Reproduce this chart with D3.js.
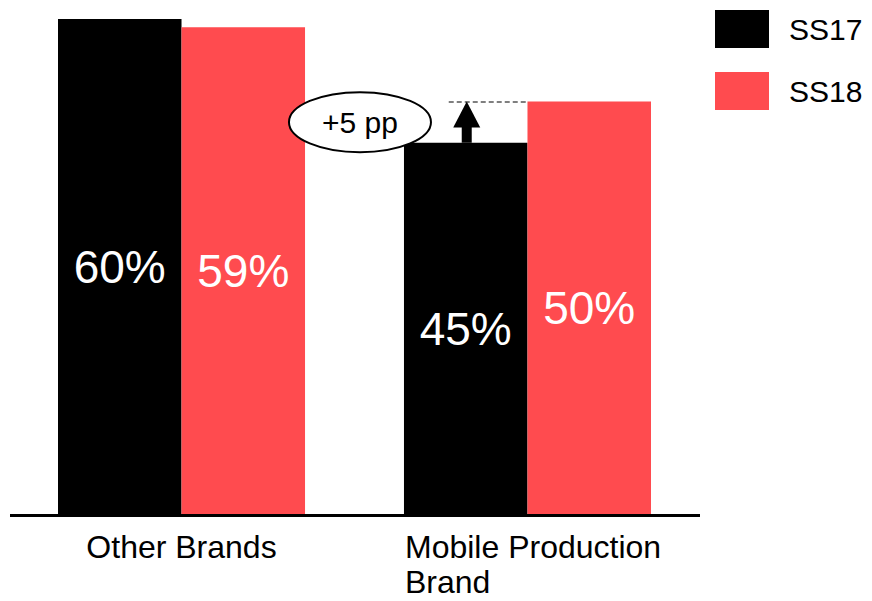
<!DOCTYPE html>
<html>
<head>
<meta charset="utf-8">
<script src="https://cdn.jsdelivr.net/npm/d3@7"></script>
<style>
  body { margin: 0; background: #fff; }
  svg { display: block; font-family: "Liberation Sans", Arial, sans-serif; }
</style>
</head>
<body>
<div id="chart"></div>
<script>
// chart data
var categories = ["Other Brands", "Mobile Production Brand"];
var categoryLines = [["Other Brands"], ["Mobile Production", "Brand"]];
var seasons = ["SS17", "SS18"];
var ss17Values = [60, 45];
var ss18Values = [59, 50];
var valueLabels = [["60%", "59%"], ["45%", "50%"]];
var annotationText = "+5 pp";

var colors = { SS17: "#000000", SS18: "#ff4b4f" };

var svgWidth = 872;
var svgHeight = 601;

var svg = d3.select("#chart")
  .append("svg")
  .attr("width", svgWidth)
  .attr("height", svgHeight);

// build rows from the arrays
var rows = categories.map(function(c, i) {
  return { category: c, lines: categoryLines[i], values: [
    { season: "SS17", value: ss17Values[i], label: valueLabels[i][0] },
    { season: "SS18", value: ss18Values[i], label: valueLabels[i][1] }
  ]};
});

var x0 = d3.scaleBand()
  .domain(categories)
  .range([58, 651])
  .paddingInner(0.286)
  .paddingOuter(0);

var x1 = d3.scaleBand()
  .domain(seasons)
  .range([0, x0.bandwidth()]);

var yScale = d3.scaleLinear()
  .domain([0, 60])
  .range([514, 19]);

// bars
var groups = svg.selectAll(".group")
  .data(rows)
  .enter()
  .append("g")
  .attr("class", "group")
  .attr("transform", d => `translate(${x0(d.category)}, 0)`);

groups.selectAll("rect")
  .data(d => d.values)
  .enter()
  .append("rect")
  .attr("x", d => x1(d.season))
  .attr("y", d => yScale(d.value))
  .attr("width", x1.bandwidth())
  .attr("height", d => yScale(0) - yScale(d.value))
  .attr("fill", d => colors[d.season]);

groups.selectAll(".val")
  .data(d => d.values)
  .enter()
  .append("text")
  .attr("class", "val")
  .attr("x", d => x1(d.season) + x1.bandwidth() / 2)
  .attr("y", d => (yScale(d.value) + yScale(0)) / 2)
  .attr("dy", "0.36em")
  .attr("text-anchor", "middle")
  .attr("fill", "#fff")
  .style("font-size", "46px")
  .text(d => d.label);

// baseline
svg.append("line")
  .attr("x1", 10)
  .attr("x2", 700)
  .attr("y1", yScale(0) + 1.5)
  .attr("y2", yScale(0) + 1.5)
  .attr("stroke", "#000")
  .attr("stroke-width", 3);

// category labels, block centred under the group, lines left aligned
groups.each(function(d) {
  var g = d3.select(this);
  var t = g.append("text")
    .style("font-size", "32px")
    .attr("fill", "#000");
  d.lines.forEach(function(line, i) {
    t.append("tspan")
      .attr("x", 0)
      .attr("y", 558 + i * 35)
      .text(line);
  });
  var w = t.node().getBBox().width;
  var start = Math.max(x0.bandwidth() / 2 - w / 2, 1);
  t.selectAll("tspan").attr("x", start);
});

// annotation on the Mobile Production Brand group
var gx = x0(categories[1]);
var barMid = gx + x1("SS17") + x1.bandwidth() / 2;
var yLow = yScale(ss17Values[1]);
var yHigh = yScale(ss18Values[1]);

svg.append("line")
  .attr("x1", barMid - 17)
  .attr("x2", gx + x1("SS18"))
  .attr("y1", yHigh + 0.5)
  .attr("y2", yHigh + 0.5)
  .attr("stroke", "#000")
  .attr("stroke-width", 1.2)
  .attr("stroke-dasharray", "5,3");

svg.append("line")
  .attr("x1", barMid + 1)
  .attr("x2", barMid + 1)
  .attr("y1", yLow)
  .attr("y2", yHigh + 24)
  .attr("stroke", "#000")
  .attr("stroke-width", 10);

svg.append("path")
  .attr("d", `M${barMid + 1},${yHigh} L${barMid + 14.5},${yHigh + 26} L${barMid - 12.5},${yHigh + 26} Z`)
  .attr("fill", "#000");

var ex = gx - 44;
var ey = (yLow + yHigh) / 2;
svg.append("ellipse")
  .attr("cx", ex)
  .attr("cy", ey)
  .attr("rx", 71)
  .attr("ry", 30)
  .attr("fill", "#fff")
  .attr("stroke", "#000")
  .attr("stroke-width", 2);

svg.append("text")
  .attr("x", ex)
  .attr("y", ey)
  .attr("dy", "0.36em")
  .attr("text-anchor", "middle")
  .style("font-size", "30px")
  .text(annotationText);

// legend
var legend = svg.selectAll(".legend")
  .data(seasons)
  .enter()
  .append("g")
  .attr("class", "legend")
  .attr("transform", (d, i) => `translate(715, ${10 + i * 62})`);

legend.append("rect")
  .attr("width", 54)
  .attr("height", 38)
  .attr("fill", d => colors[d]);

legend.append("text")
  .attr("x", 74)
  .attr("y", 19)
  .attr("dy", "0.36em")
  .style("font-size", "30px")
  .text(d => d);
</script>
</body>
</html>
